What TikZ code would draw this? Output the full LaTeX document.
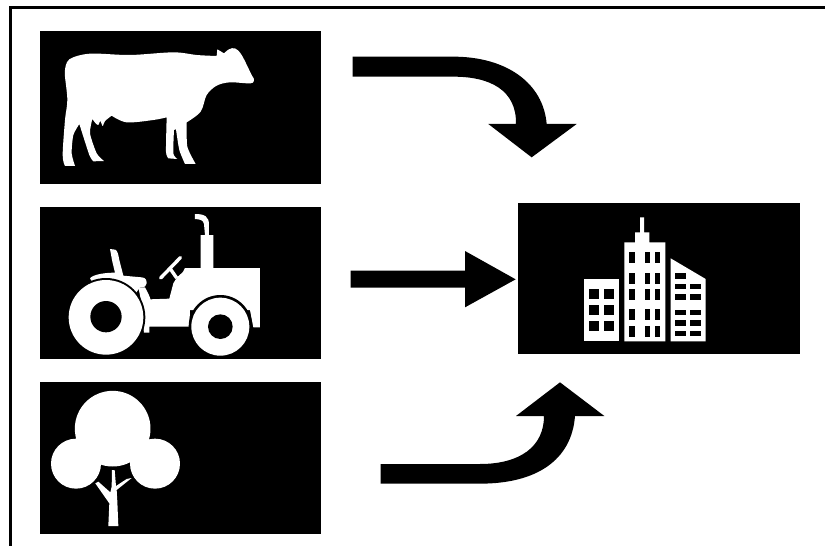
\documentclass[tikz,border=0pt]{standalone}
\tikzset{
  panel/.style={fill=black},
  glyph/.style={fill=white},
  hole/.style={fill=black},
  flow/.style={fill=black},
  frameline/.style={draw=black,line width=3pt},
  zoomA/.style={shift={(#1)},x=0.33333pt,y=-0.33333pt}
}
\begin{document}
\begin{tikzpicture}[x=1pt,y=-1pt]
\useasboundingbox (0,0) rectangle (825,546);
\fill[white] (0,0) rectangle (825,546);
\draw[frameline] (10.5,546) -- (10.5,7.5) -- (825,7.5);
% panels
\fill[panel] (39.5,31) rectangle (321,183.5);
\fill[panel] (39.5,206.5) rectangle (321,359);
\fill[panel] (39.5,382) rectangle (321,534);
\fill[panel] (518,203) rectangle (799.5,354);
% cow
\begin{scope}[zoomA={30,20}]
\fill[glyph] plot[smooth,tension=.55] coordinates {(105,150) (118,118) (180,101) (300,105) (430,97) (500,105) (560,108)}
 -- (562,88) -- (582,100)
 -- plot[smooth,tension=.55] coordinates {(582,100) (597,88) (615,85) (635,105) (665,165) (672,178) (662,190) (600,187) (560,197) (530,225) (512,275) (470,307)}
 -- plot[smooth,tension=.4] coordinates {(470,307) (472,380) (497,432)}
 -- (465,432)
 -- plot[smooth,tension=.4] coordinates {(465,432) (448,390) (438,328)}
 -- (432,330)
 -- plot[smooth,tension=.4] coordinates {(432,330) (430,400) (442,417)}
 -- (415,415)
 -- plot[smooth,tension=.4] coordinates {(415,415) (408,395) (410,292)}
 -- plot[smooth,tension=.55] coordinates {(410,292) (370,300) (290,307) (245,287)}
 -- plot[smooth,tension=.4] coordinates {(245,287) (225,303) (218,318) (211,303) (205,315) (197,310) (187,297)}
 -- plot[smooth,tension=.4] coordinates {(187,297) (180,340) (200,400) (222,423)}
 -- (190,424)
 -- plot[smooth,tension=.4] coordinates {(190,424) (178,405) (148,312)}
 -- plot[smooth,tension=.4] coordinates {(148,312) (130,345) (125,400) (135,438)}
 -- (105,438)
 -- plot[smooth,tension=.55] coordinates {(105,438) (98,405) (105,300) (112,240) (105,170) (105,150)}
 -- cycle;
\end{scope}
% tractor
\begin{scope}[zoomA={30,200}]
\fill[glyph] (465,204) -- (512,204) -- (512,105) -- (525,105) -- (522,72) .. controls (520,60) and (510,58) .. (495,57) -- (495,42) .. controls (525,42) and (537,50) .. (537,75) -- (537,105) -- (550,105) -- (550,204) -- (690,204) -- (690,382) -- (670,382) -- (660,330) -- (480,330) -- (478,380) -- (358,380) -- (358,398) -- (342,398) -- (330,300) -- (360,298) -- (418,296) -- (430,250) -- (441,232) -- (458,217) -- cycle;
\fill[glyph] (325,262) -- (345,262) .. controls (352,275) and (358,285) .. (362,300) -- (335,310) -- cycle;
\fill[hole] (571,380) circle (95);
% seat
\fill[glyph] (240,147) -- (256,149) .. controls (263,152) and (265,165) .. (268,180) -- (280,227) -- (335,232) .. controls (347,233) and (350,240) .. (350,250) .. controls (350,258) and (345,262) .. (330,262) -- (310,290) -- (190,290) -- (185,243) -- (180,235) .. controls (190,222) and (230,218) .. (255,218) -- (247,185) -- cycle;
\fill[hole] (228,352) circle (118);
\draw[white,line width=3.4pt,line cap=round] (392,234) -- (451,173);
\draw[white,line width=3.4pt] (420,205) -- (440,234);
\fill[glyph] (228,352) circle (112);
\fill[hole] (228,350) circle (47);
\fill[glyph] (571,380) circle (87);
\fill[hole] (571,380) circle (37);
\end{scope}
% tree
\begin{scope}[zoomA={30,375}]
\fill[glyph] (248,161) circle (113.5);
\fill[glyph] (138,266) circle (75);
\fill[glyph] (375,266) circle (75);
\fill[glyph] (235,453) -- (265,453) -- (262,380) -- (260,345) -- (305,309) -- (290,312) -- (258,333) -- (254,285) -- (246,285) -- (245,335) -- (241,352) -- (205,320) -- (196,325) -- (238,385) -- cycle;
\end{scope}
% city
\begin{scope}[zoomA={560,200}]
\fill[glyph] (72,237) rectangle (177,424);
\fill[glyph] (193,424) -- (193,127) -- (225,127) -- (225,97) -- (240,97) -- (240,52) -- (252,52) -- (252,97) -- (268,97) -- (268,127) -- (316,127) -- (316,424) -- cycle;
\fill[glyph] (332,175) -- (437,237) -- (437,424) -- (332,424) -- cycle;
\foreach \yy in {267,315,362} \foreach \xx in {86,132} \fill[hole] (\xx,\yy) rectangle ++(30,30);
\foreach \yy in {157,219,266,328,377} \foreach \xx in {208,254,284} \fill[hole] (\xx,\yy) rectangle ++(16,33);
\fill[hole] (345,220) rectangle ++(32,17);
\foreach \yy in {252,283,330,361,392} \foreach \xx in {345,391} \fill[hole] (\xx,\yy) rectangle ++(32,16);
\end{scope}
% arrows
\begin{scope}[zoomA={340,40}]
\fill[flow] (38,50) -- (340,50) .. controls (500,50) and (610,130) .. (620,252) -- (710,252) -- (575,352) -- (445,252) -- (528,252) .. controls (530,150) and (450,110) .. (340,110) -- (38,110) -- cycle;
\end{scope}
\begin{scope}[zoomA={340,240}]
\fill[flow] (32,92) -- (375,92) -- (375,33) -- (527,118) -- (375,202) -- (375,143) -- (32,143) -- cycle;
\end{scope}
\begin{scope}[zoomA={340,370}]
\fill[flow] (122,282) -- (420,282) .. controls (540,282) and (612,230) .. (612,138) -- (528,138) -- (660,37) -- (793,138) -- (705,138) .. controls (695,270) and (590,341) .. (420,341) -- (122,341) -- cycle;
\end{scope}
\end{tikzpicture}
\end{document}
